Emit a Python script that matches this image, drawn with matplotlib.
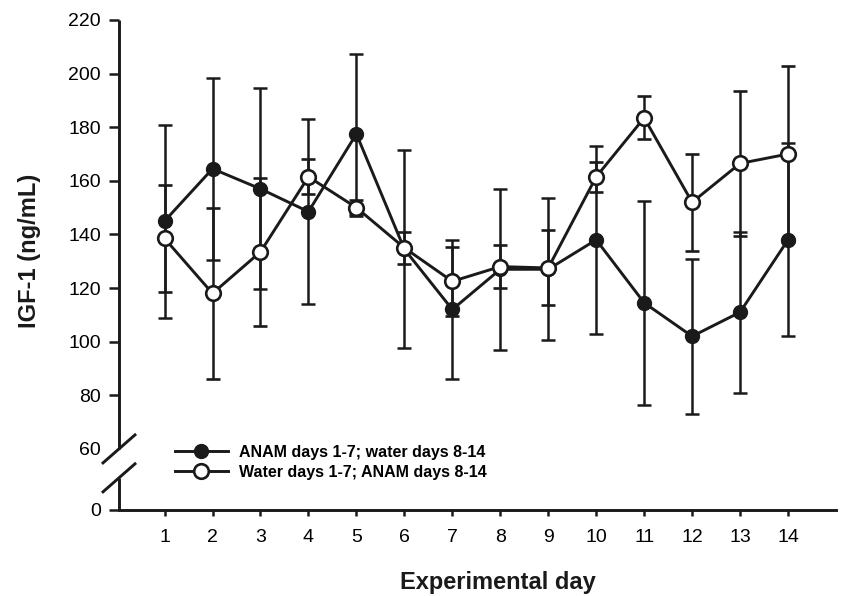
import matplotlib
matplotlib.use("Agg")
import matplotlib.pyplot as plt
from matplotlib.lines import Line2D

plt.rcParams['font.family'] = ['Liberation Sans', 'DejaVu Sans']

days = list(range(1, 15))

# ANAM days 1-7; water days 8-14 (filled)
anam_first = [145, 164.5, 157, 148.5, 177.5, 134.5, 112, 127, 127, 138, 114.5, 102, 111, 138]
anam_first_err = [36, 34, 37.5, 34.5, 30, 37, 26, 30, 26.5, 35, 38, 29, 30, 36]

# Water days 1-7; ANAM days 8-14 (open)
water_first = [138.5, 118, 133.5, 161.5, 150, 135, 122.5, 128, 127.5, 161.5, 183.5, 152, 166.5, 170]
water_first_err = [20, 32, 27.5, 6.5, 3, 6, 13, 8, 14, 5.6, 8, 18, 27, 33]

labels = ['ANAM days 1-7; water days 8-14', 'Water days 1-7; ANAM days 8-14']

ytick_vals = [60, 80, 100, 120, 140, 160, 180, 200, 220]
zero_pos = 37.2   # where "0" sits below the axis break

col = '#1a1a1a'
lw = 2.1

fig = plt.figure(figsize=(8.44, 5.96), dpi=100)
ax = fig.add_axes([119/844, 1-510/596, (836-119)/844, (510-20)/596])

ax.errorbar(days, anam_first, yerr=anam_first_err, color=col, lw=lw,
            marker='o', ms=10, mfc=col, mec=col, capsize=5, capthick=1.8,
            elinewidth=1.8, zorder=3)
ax.errorbar(days, water_first, yerr=water_first_err, color=col, lw=lw,
            marker='o', ms=10.5, mfc='white', mec=col, mew=1.9, capsize=5,
            capthick=1.8, elinewidth=1.8, zorder=4)

ax.set_xlim(0.05, 15)
ax.set_ylim(zero_pos, 220)

ax.set_xticks(days)
ax.set_yticks([zero_pos] + ytick_vals)
ax.set_yticklabels(['0'] + [str(v) for v in ytick_vals])
ax.tick_params(axis='y', length=7, width=1.8, pad=6, labelsize=14, color=col)
ax.tick_params(axis='x', length=4.5, width=1.8, pad=9, labelsize=14, color=col)
# no tick mark at 60 (break there)
ax.yaxis.get_major_ticks()[1].tick1line.set_visible(False)

for s in ['top', 'right', 'left']:
    ax.spines[s].set_visible(False)
ax.spines['bottom'].set_linewidth(lw)
ax.spines['bottom'].set_color(col)

# broken left axis drawn by hand
x0 = 0.05
dx = 16 / 48
dy = 14 / 2.68
ax.plot([x0, x0], [60, 220], color=col, lw=lw, clip_on=False, solid_capstyle='butt')
ax.plot([x0, x0], [zero_pos, 49.2], color=col, lw=lw, clip_on=False, solid_capstyle='butt')
ax.plot([x0 - dx, x0 + dx], [60 - dy, 60 + dy], color=col, lw=lw, clip_on=False)
ax.plot([x0 - dx, x0 + dx], [49.2 - dy, 49.2 + dy], color=col, lw=lw, clip_on=False)

handles = [
    Line2D([], [], color=col, lw=lw, marker='o', ms=10, mfc=col, mec=col),
    Line2D([], [], color=col, lw=lw, marker='o', ms=10.5, mfc='white', mec=col, mew=1.9),
]
ax.legend(handles, labels, loc='center left', bbox_to_anchor=(0.078, 0.097), frameon=False,
          prop={'weight': 'bold', 'size': 11.5}, handlelength=3.3,
          handletextpad=0.7, labelspacing=0.32, borderpad=0, borderaxespad=0)

fig.text(30/844, 1-251/596, 'IGF-1 (ng/mL)', rotation=90, ha='center', va='center',
         fontsize=17, fontweight='bold', color=col)
fig.text(498/844, 1-582/596, 'Experimental day', ha='center', va='center',
         fontsize=17, fontweight='bold', color=col)

fig.savefig('out.png', dpi=100)
